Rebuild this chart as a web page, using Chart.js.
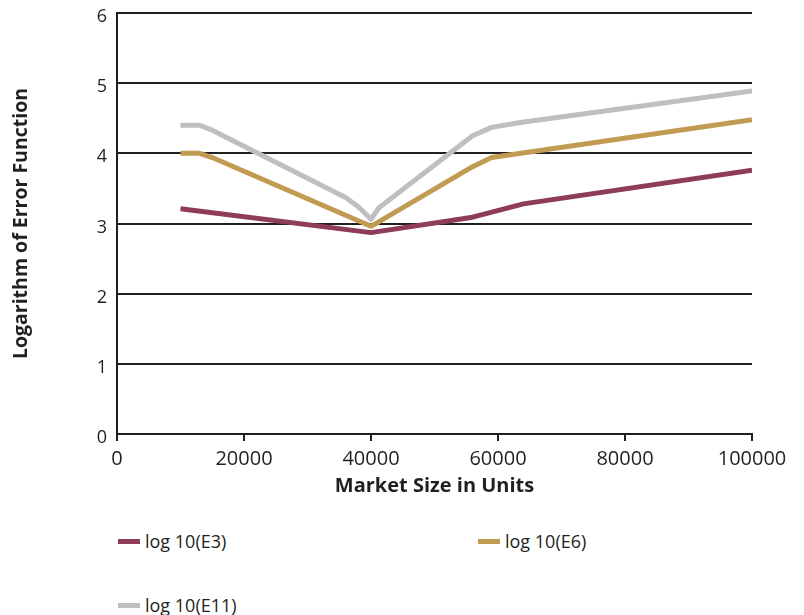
<!DOCTYPE html>
<html>
<head>
<meta charset="utf-8">
<script src="https://cdn.jsdelivr.net/npm/chart.js@4"></script>
<style>
  html, body { margin: 0; padding: 0; background: #fff; }
  #wrap { position: relative; width: 804px; height: 615px; }
  #chart-box { position: absolute; left: 0; top: 0; width: 804px; height: 510px; }
  .legend-item { position: absolute; display: flex; align-items: center;
    font-family: "Open Sans", Lato, sans-serif; font-size: 18px; color: #231f20; }
  .legend-swatch { width: 22px; height: 5px; margin-right: 5px; }
</style>
</head>
<body>
<div id="wrap">
  <div id="chart-box"><canvas id="c"></canvas></div>
  <div id="legend"></div>
</div>
<script>
// Market size (units) and log10 of the error function for three estimators
const seriesLabels = ['log 10(E3)', 'log 10(E6)', 'log 10(E11)'];
const seriesColors = ['#8f3b5b', '#c29b53', '#bfbfc2'];

const e3X = [10000, 40000, 56000, 64000, 100000];
const e3Y = [3.21, 2.87, 3.09, 3.28, 3.76];

const e6X = [10000, 13000, 15000, 40000, 56000, 59000, 100000];
const e6Y = [4.00, 4.00, 3.94, 2.96, 3.81, 3.94, 4.48];

const e11X = [10000, 13000, 15000, 36000, 38000, 40000, 41200, 56000, 59000, 63500, 100000];
const e11Y = [4.40, 4.40, 4.33, 3.37, 3.24, 3.06, 3.22, 4.25, 4.37, 4.44, 4.89];

const xTicks = [0, 20000, 40000, 60000, 80000, 100000];
const yTicks = [0, 1, 2, 3, 4, 5, 6];

const toPoints = (xs, ys) => xs.map((x, i) => ({ x: x, y: ys[i] }));
const seriesData = [toPoints(e3X, e3Y), toPoints(e6X, e6Y), toPoints(e11X, e11Y)];

const FONT = '"Open Sans", Lato, sans-serif';
const INK = '#231f20';

const datasets = seriesLabels.map((label, i) => ({
  label: label,
  data: seriesData[i],
  borderColor: seriesColors[i],
  backgroundColor: seriesColors[i],
  borderWidth: 5,
  pointRadius: 0,
  tension: 0,
  fill: false,
  borderJoinStyle: 'round'
}));

new Chart(document.getElementById('c'), {
  type: 'line',
  data: { datasets: datasets },
  options: {
    responsive: true,
    maintainAspectRatio: false,
    animation: false,
    layout: { padding: { top: 13, right: 52, bottom: 0, left: 0 } },
    plugins: { legend: { display: false }, tooltip: { enabled: false } },
    scales: {
      x: {
        type: 'linear',
        min: 0, max: 100000,
        afterBuildTicks: (s) => { s.ticks = xTicks.map(v => ({ value: v })); },
        afterFit: (s) => { s.height = 76; },
        border: { display: true, color: INK, width: 2 },
        grid: { drawOnChartArea: false, drawTicks: true, tickLength: 7, color: INK, lineWidth: 2 },
        ticks: { color: INK, font: { family: FONT, size: 20 }, padding: 6, maxRotation: 0,
                 callback: (v) => String(v) },
        title: { display: true, text: 'Market Size in Units', color: INK,
                 font: { family: FONT, size: 20, weight: 'bold' }, padding: { top: 0, bottom: 12 } }
      },
      y: {
        min: 0, max: 6,
        afterBuildTicks: (s) => { s.ticks = yTicks.map(v => ({ value: v })); },
        afterFit: (s) => { s.width = 117; s.paddingTop = 0; s.paddingBottom = 0; },
        border: { display: true, color: INK, width: 2 },
        grid: { color: INK, lineWidth: 2, drawTicks: false },
        ticks: { color: INK, font: { family: FONT, size: 18 }, padding: 10, labelOffset: 4,
                 callback: (v) => String(v) },
        title: { display: true, text: 'Logarithm of Error Function', color: INK,
                 font: { family: FONT, size: 19.5, weight: 'bold' }, padding: { top: 10, bottom: 0 } }
      }
    }
  }
});

// Two-column legend under the plot
const legendPos = [[118, 541], [478, 541], [118, 605]];
const legend = document.getElementById('legend');
seriesLabels.forEach((label, i) => {
  const item = document.createElement('div');
  item.className = 'legend-item';
  item.style.left = legendPos[i][0] + 'px';
  item.style.top = (legendPos[i][1] - 12) + 'px';
  item.style.height = '24px';
  const sw = document.createElement('span');
  sw.className = 'legend-swatch';
  sw.style.background = seriesColors[i];
  const tx = document.createElement('span');
  tx.textContent = label;
  item.appendChild(sw);
  item.appendChild(tx);
  legend.appendChild(item);
});
</script>
</body>
</html>
